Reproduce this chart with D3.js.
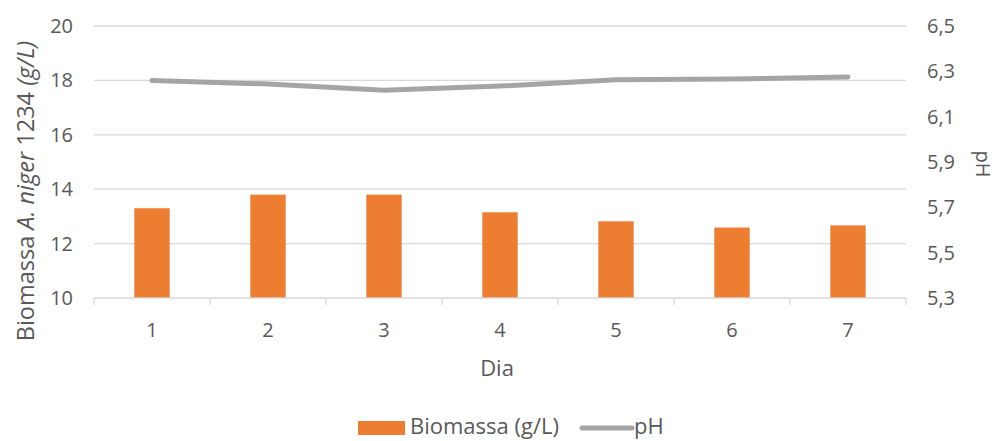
<!DOCTYPE html>
<html>
<head>
<meta charset="utf-8">
<script src="https://cdn.jsdelivr.net/npm/d3@7"></script>
<style>
  html, body { margin: 0; padding: 0; background: #fff; }
  svg { display: block; }
  text { font-family: "Open Sans", "Noto Sans", sans-serif; fill: #595959; }
</style>
</head>
<body>
<svg id="chart" width="999" height="441"></svg>
<script>
const categories = ["1", "2", "3", "4", "5", "6", "7"];
const biomassa = [13.3, 13.8, 13.8, 13.15, 12.82, 12.59, 12.67];
const ph = [6.26, 6.244, 6.217, 6.235, 6.263, 6.266, 6.275];
const leftTicks = [10, 12, 14, 16, 18, 20];
const rightTicks = [5.3, 5.5, 5.7, 5.9, 6.1, 6.3, 6.5];

const W = 999, H = 441;
const m = { left: 94, right: 906, top: 26, bottom: 298 };
const svg = d3.select("#chart");

const x = d3.scaleBand().domain(categories).range([m.left, m.right]).paddingInner(0.695).paddingOuter(0.3475);
const xc = d3.scaleBand().domain(categories).range([m.left, m.right]);
const yL = d3.scaleLinear().domain([10, 20]).range([m.bottom, m.top]);
const yR = d3.scaleLinear().domain([5.3, 6.5]).range([m.bottom, m.top]);

// gridlines
svg.append("g").selectAll("line").data(leftTicks.filter(d => d !== 10)).join("line")
  .attr("x1", m.left).attr("x2", m.right)
  .attr("y1", d => yL(d)).attr("y2", d => yL(d))
  .attr("stroke", "#D9D9D9").attr("stroke-width", 1.3);

// bars
svg.append("g").selectAll("rect").data(biomassa).join("rect")
  .attr("x", (d, i) => x(categories[i]))
  .attr("width", x.bandwidth())
  .attr("y", d => yL(d))
  .attr("height", d => yL(10) - yL(d))
  .attr("fill", "#ED7D31");

// x axis baseline & ticks
svg.append("line").attr("x1", m.left).attr("x2", m.right).attr("y1", m.bottom).attr("y2", m.bottom)
  .attr("stroke", "#D9D9D9").attr("stroke-width", 1.3);
const bounds = categories.map(c => xc(c)).concat([m.right]);
svg.append("g").selectAll("line").data(bounds).join("line")
  .attr("x1", d => d).attr("x2", d => d)
  .attr("y1", m.bottom).attr("y2", m.bottom + 7)
  .attr("stroke", "#D9D9D9").attr("stroke-width", 1.3);

svg.append("g").selectAll("text").data(categories).join("text")
  .attr("x", d => xc(d) + xc.bandwidth() / 2)
  .attr("y", 337)
  .attr("text-anchor", "middle")
  .attr("font-size", 20)
  .text(d => d);

// left tick labels
svg.append("g").selectAll("text").data(leftTicks).join("text")
  .attr("x", 73).attr("y", d => yL(d) + 7)
  .attr("text-anchor", "end").attr("font-size", 20)
  .text(d => d);

// right tick labels
svg.append("g").selectAll("text").data(rightTicks).join("text")
  .attr("x", 927).attr("y", d => yR(d) + 7)
  .attr("text-anchor", "start").attr("font-size", 20)
  .text(d => d3.format(".1f")(d).replace(".", ","));

// pH line
const line = d3.line().x((d, i) => xc(categories[i]) + xc.bandwidth() / 2).y(d => yR(d));
svg.append("path").datum(ph).attr("d", line)
  .attr("fill", "none").attr("stroke", "#A5A5A5").attr("stroke-width", 5)
  .attr("stroke-linecap", "round").attr("stroke-linejoin", "round");

// axis titles
const lt = svg.append("text")
  .attr("transform", "translate(34,191) rotate(-90)")
  .attr("text-anchor", "middle").attr("font-size", 23.5);
lt.append("tspan").text("Biomassa ");
lt.append("tspan").attr("font-style", "italic").text("A. niger");
lt.append("tspan").text(" 1234 ");
lt.append("tspan").attr("font-style", "italic").text("(g/L)");

svg.append("text")
  .attr("transform", "translate(976,164) rotate(90)")
  .attr("text-anchor", "middle").attr("font-size", 20)
  .text("pH");

svg.append("text").attr("x", 497).attr("y", 376)
  .attr("text-anchor", "middle").attr("font-size", 22).text("Dia");

// legend
svg.append("rect").attr("x", 358).attr("y", 421).attr("width", 47).attr("height", 14).attr("fill", "#ED7D31");
svg.append("text").attr("x", 410).attr("y", 434).attr("font-size", 22).text("Biomassa (g/L)");
svg.append("line").attr("x1", 582).attr("x2", 632).attr("y1", 428).attr("y2", 428)
  .attr("stroke", "#A5A5A5").attr("stroke-width", 5).attr("stroke-linecap", "round");
svg.append("text").attr("x", 634).attr("y", 434).attr("font-size", 22).text("pH");
</script>
</body>
</html>
